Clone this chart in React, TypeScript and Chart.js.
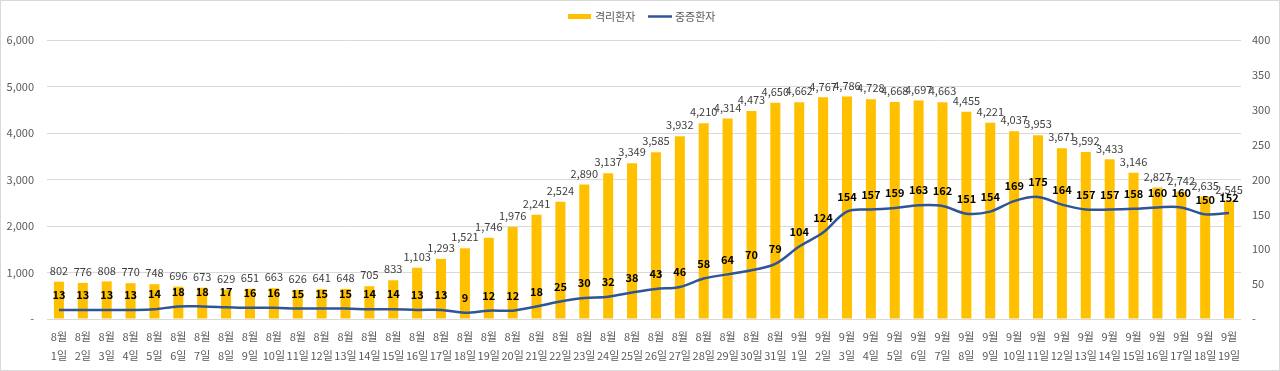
import React, { useEffect, useRef } from "react";
import { Chart, registerables } from "chart.js";

Chart.register(...registerables);

const months = [
  ...Array(31).fill("8월"),
  ...Array(19).fill("9월"),
];
const days = [
  "1일","2일","3일","4일","5일","6일","7일","8일","9일","10일","11일","12일","13일","14일","15일","16일",
  "17일","18일","19일","20일","21일","22일","23일","24일","25일","26일","27일","28일","29일","30일","31일",
  "1일","2일","3일","4일","5일","6일","7일","8일","9일","10일","11일","12일","13일","14일","15일","16일",
  "17일","18일","19일",
];
const isolated = [
  802, 776, 808, 770, 748, 696, 673, 629, 651, 663, 626, 641, 648, 705, 833, 1103,
  1293, 1521, 1746, 1976, 2241, 2524, 2890, 3137, 3349, 3585, 3932, 4210, 4314, 4473, 4650,
  4662, 4767, 4786, 4728, 4668, 4697, 4663, 4455, 4221, 4037, 3953, 3671, 3592, 3433, 3146,
  2827, 2742, 2635, 2545,
];
const severe = [
  13, 13, 13, 13, 14, 18, 18, 17, 16, 16, 15, 15, 15, 14, 14, 13,
  13, 9, 12, 12, 18, 25, 30, 32, 38, 43, 46, 58, 64, 70, 79,
  104, 124, 154, 157, 159, 163, 162, 151, 154, 169, 175, 164, 157, 157, 158,
  160, 160, 150, 152,
];
const seriesNames = ["격리환자", "중증환자"];

const FONT = '"Noto Sans CJK KR", "Noto Sans", sans-serif';
const BAR_COLOR = "#FFC000";
const LINE_COLOR = "#2F5597";
const TEXT_COLOR = "#595959";

const fmt = (v: number) => (v === 0 ? "-" : v.toLocaleString("en-US"));

const extras = {
  id: "extras",
  afterDatasetsDraw(chart: any) {
    const ctx = chart.ctx;
    ctx.save();
    // bar labels
    const m0 = chart.getDatasetMeta(0);
    ctx.font = `11px ${FONT}`;
    ctx.fillStyle = "#404040";
    ctx.textAlign = "center";
    ctx.textBaseline = "middle";
    m0.data.forEach((el: any, i: number) => {
      ctx.fillText(fmt(isolated[i]), el.x, el.y - 11);
    });
    // line labels
    const m1 = chart.getDatasetMeta(1);
    ctx.font = `bold 11px ${FONT}`;
    ctx.fillStyle = "#000000";
    m1.data.forEach((el: any, i: number) => {
      ctx.fillText(String(severe[i]), el.x, el.y - 15);
    });
    ctx.restore();
  },
  afterDraw(chart: any) {
    const ctx = chart.ctx;
    ctx.save();
    // legend
    ctx.fillStyle = BAR_COLOR;
    ctx.fillRect(568, 14, 23, 5);
    ctx.font = `11px ${FONT}`;
    ctx.fillStyle = TEXT_COLOR;
    ctx.textAlign = "left";
    ctx.textBaseline = "middle";
    ctx.fillText(seriesNames[0], 595, 17);
    ctx.strokeStyle = LINE_COLOR;
    ctx.lineWidth = 2.5;
    ctx.beginPath();
    ctx.moveTo(648, 16.5);
    ctx.lineTo(672, 16.5);
    ctx.stroke();
    ctx.fillText(seriesNames[1], 675, 17);
    // border
    ctx.strokeStyle = "#D9D9D9";
    ctx.lineWidth = 1;
    ctx.strokeRect(0.5, 0.5, chart.width - 1, chart.height - 1);
    ctx.restore();
  },
};

export default function App() {
  const ref = useRef<HTMLCanvasElement>(null);
  useEffect(() => {
    document.body.style.margin = "0";
    const chart = new Chart(ref.current!, {
      type: "bar",
      data: {
        labels: months.map((m, i) => [m, days[i]]),
        datasets: [
          {
            type: "bar",
            label: seriesNames[0],
            data: isolated,
            backgroundColor: BAR_COLOR,
            barPercentage: 0.42,
            categoryPercentage: 1,
            yAxisID: "y",
            order: 2,
          },
          {
            type: "line",
            label: seriesNames[1],
            data: severe,
            borderColor: LINE_COLOR,
            backgroundColor: LINE_COLOR,
            borderWidth: 2.5,
            pointRadius: 0,
            tension: 0.35,
            yAxisID: "y1",
            order: 1,
          } as any,
        ],
      },
      options: {
        responsive: false,
        animation: false,
        layout: { padding: { top: 40, left: 0, right: 0, bottom: 0 } },
        plugins: {
          legend: { display: false },
          tooltip: { enabled: false },
        },
        scales: {
          x: {
            grid: { display: false },
            border: { display: false },
            ticks: {
              autoSkip: false,
              maxRotation: 0,
              color: TEXT_COLOR,
              font: { family: FONT, size: 11, lineHeight: 1.75 },
              padding: 0,
            },
            afterFit(s: any) {
              s.height = 52;
            },
          },
          y: {
            position: "left",
            min: 0,
            max: 6000,
            ticks: {
              stepSize: 1000,
              color: TEXT_COLOR,
              font: { family: FONT, size: 11 },
              padding: 13,
              callback: (v: any) => fmt(Number(v)),
            },
            grid: { color: "#D9D9D9", drawTicks: false, lineWidth: 1 },
            border: { display: false },
            afterFit(s: any) {
              s.width = 47;
            },
          },
          y1: {
            position: "right",
            min: 0,
            max: 400,
            ticks: {
              stepSize: 50,
              color: TEXT_COLOR,
              font: { family: FONT, size: 11 },
              padding: 11,
              callback: (v: any) => fmt(Number(v)),
            },
            grid: { display: false, drawTicks: false },
            border: { display: false },
            afterFit(s: any) {
              s.width = 39;
            },
          },
        },
      },
      plugins: [extras],
    });
    return () => chart.destroy();
  }, []);
  return <canvas ref={ref} width={1280} height={371} style={{ display: "block" }} />;
}
